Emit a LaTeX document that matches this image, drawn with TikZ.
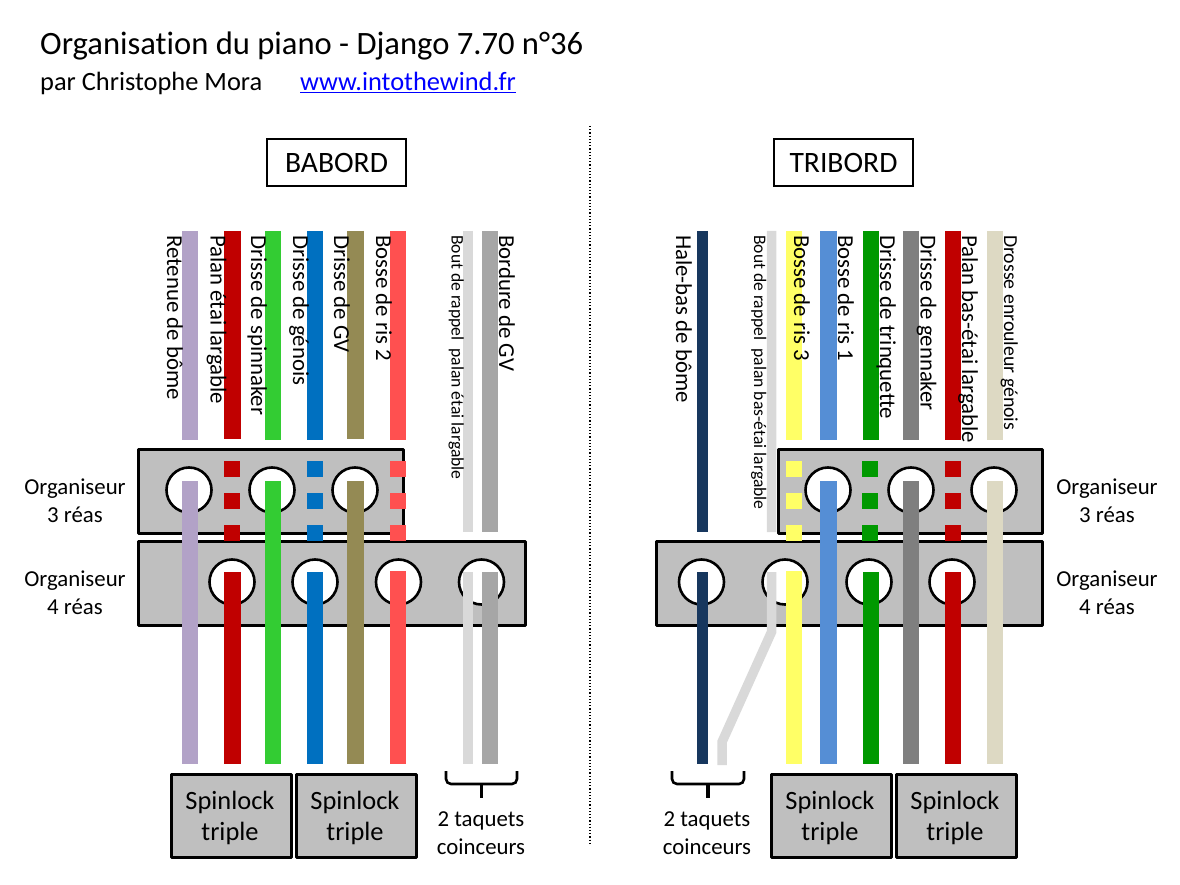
\documentclass[tikz,border=0pt]{standalone}
\usepackage{fontspec}
\setmainfont{Carlito}[Ligatures=CommonOff]
\usetikzlibrary{positioning}
\definecolor{parme}{HTML}{B2A2C7}
\definecolor{rouge}{HTML}{C00000}
\definecolor{vertclair}{HTML}{33CC33}
\definecolor{bleu}{HTML}{0070C0}
\definecolor{olive}{HTML}{948A54}
\definecolor{corail}{HTML}{FF5050}
\definecolor{grisclair}{HTML}{D9D9D9}
\definecolor{grismoyen}{HTML}{A6A6A6}
\definecolor{marine}{HTML}{17375E}
\definecolor{jaune}{HTML}{FFFF66}
\definecolor{ciel}{HTML}{558ED5}
\definecolor{vertfonce}{HTML}{009900}
\definecolor{grisfonce}{HTML}{7F7F7F}
\definecolor{beige}{HTML}{DDD9C3}
\definecolor{plaque}{HTML}{BFBFBF}
\newcommand{\Spinlock}{\rule{0pt}{23pt}Spinlock\hspace*{3pt}\\triple\hspace*{3pt}}
\tikzset{
  Plaque/.style={draw=black,line width=3pt,line join=round,fill=plaque},
  Trou/.style={circle,draw=black,line width=2.6pt,fill=white,minimum size=45pt,inner sep=0pt},
  Carre/.style={minimum size=16pt,inner sep=0pt},
  Ecoute/.style={line width=16.5pt},
  Fine/.style={line width=9.5pt},
  Nom/.style={rotate=-90,anchor=base west,inner sep=0pt,font=\fontsize{22.8}{24}\selectfont},
  Petit/.style={rotate=-90,anchor=base west,inner sep=0pt,font=\fontsize{17.6}{18}\selectfont},
  Etiquette/.style={align=center,font=\fontsize{22.8}{28}\selectfont},
  Bord/.style={draw=black,line width=2pt,minimum width=139pt,minimum height=47pt,inner sep=0pt,font=\fontsize{29.6}{30}\selectfont},
  Bloqueur/.style={draw=black,line width=3pt,line join=round,fill=plaque,minimum width=120pt,minimum height=83pt,inner sep=0pt,align=center,font=\fontsize{26.4}{31}\selectfont},
  Accolade/.style={draw=black,line width=2.6pt,rounded corners=5pt}
}
\begin{document}
\begin{tikzpicture}[x=1pt,y=-1pt]
  \useasboundingbox (0,0) rectangle (1180,885);
  % titre
  \node[anchor=base west,inner sep=0pt,font=\fontsize{32.6}{34}\selectfont] (titre) at (40,55) {Organisation du piano - Django 7.70 n°36};
  \node[anchor=base west,inner sep=0pt,font=\fontsize{26.4}{28}\selectfont] (auteur) at (40,91) {par Christophe Mora};
  \node[anchor=base west,inner sep=0pt,text=blue,font=\fontsize{26.4}{28}\selectfont] (lien) at (300,91) {\underline{www.intothewind.fr}};
  \coordinate (axe1) at (590,126);
  \coordinate (axe2) at (590,845);
  \draw[black,line width=1.2pt,dotted] (axe1) -- (axe2);
  \node[Bord] (babord) at (336.5,162.5) {BABORD};
  \node[Bord] (tribord) at (843.5,162.5) {TRIBORD};

  % babord : organiseurs
  \draw[Plaque] (138.5,449.5) rectangle (403.5,533);
  \draw[Plaque] (138.5,541.5) rectangle (525.5,625);
  \node[Trou] (b1) at (189,490) {};
  \node[Trou] (b2) at (272,490) {};
  \node[Trou] (b3) at (355,490) {};
  \node[Trou] (b4) at (232,582) {};
  \node[Trou] (b5) at (315,582) {};
  \node[Trou] (b6) at (398.5,582) {};
  \node[Trou] (b7) at (481.5,582) {};
  \node[Carre,fill=rouge] (pa1) at (232,469) {};
  \node[Carre,fill=rouge] (pa2) at (232,501) {};
  \node[Carre,fill=rouge] (pa3) at (232,533) {};
  \node[Carre,fill=bleu] (ge1) at (315,469) {};
  \node[Carre,fill=bleu] (ge2) at (315,501) {};
  \node[Carre,fill=bleu] (ge3) at (315,533) {};
  \node[Carre,fill=corail] (r21) at (398,469) {};
  \node[Carre,fill=corail] (r22) at (398,501) {};
  \node[Carre,fill=corail] (r23) at (398,533) {};

  % babord : ecoutes
  \path (190,231) coordinate (ret1) (190,440) coordinate (ret2) (190,481) coordinate (ret3) (190,764) coordinate (ret4);
  \draw[Ecoute,parme] (ret1) -- (ret2) (ret3) -- (ret4);
  \path (232.5,231) coordinate (pal1) (232.5,439) coordinate (pal2) (232.5,572) coordinate (pal3) (232.5,764) coordinate (pal4);
  \draw[Ecoute,rouge] (pal1) -- (pal2) (pal3) -- (pal4);
  \path (273,231) coordinate (spi1) (273,440) coordinate (spi2) (273,481) coordinate (spi3) (273,764) coordinate (spi4);
  \draw[Ecoute,vertclair] (spi1) -- (spi2) (spi3) -- (spi4);
  \path (315,231) coordinate (gen1) (315,440) coordinate (gen2) (315,572) coordinate (gen3) (315,764) coordinate (gen4);
  \draw[Ecoute,bleu] (gen1) -- (gen2) (gen3) -- (gen4);
  \path (355.5,231) coordinate (gv1) (355.5,439) coordinate (gv2) (355.5,481) coordinate (gv3) (355.5,764) coordinate (gv4);
  \draw[Ecoute,olive] (gv1) -- (gv2) (gv3) -- (gv4);
  \path (398,231) coordinate (ris1) (398,440) coordinate (ris2) (398,571) coordinate (ris3) (398,764) coordinate (ris4);
  \draw[Ecoute,corail] (ris1) -- (ris2) (ris3) -- (ris4);
  \path (468,231) coordinate (bou1) (468,532) coordinate (bou2) (468,572) coordinate (bou3) (468,764) coordinate (bou4);
  \draw[Fine,grisclair] (bou1) -- (bou2) (bou3) -- (bou4);
  \path (490,231) coordinate (bor1) (490,532) coordinate (bor2) (490,572) coordinate (bor3) (490,764) coordinate (bor4);
  \draw[Ecoute,grismoyen] (bor1) -- (bor2) (bor3) -- (bor4);

  \node[Nom] (tret) at (167,235) {Retenue de bôme};
  \node[Nom] (tpal) at (210.5,235) {Palan étai largable};
  \node[Nom] (tspi) at (251,235) {Drisse de spinnaker};
  \node[Nom] (tgen) at (293,235) {Drisse de génois};
  \node[Nom] (tgv) at (334,235) {Drisse de GV};
  \node[Nom] (tris) at (376,235) {Bosse de ris 2};
  \node[Petit] (tbou) at (451.5,235) {Bout de rappel\ \ palan étai largable};
  \node[Nom] (tbor) at (499,235) {Bordure de GV};

  % tribord : organiseurs
  \draw[Plaque] (778.5,449.5) rectangle (1042.5,533);
  \draw[Plaque] (656.5,541.5) rectangle (1042.5,625);
  \node[Trou] (t1) at (828,490) {};
  \node[Trou] (t2) at (911,490) {};
  \node[Trou] (t3) at (994,490) {};
  \node[Trou] (t4) at (701.5,582) {};
  \node[Trou] (t5) at (785,582) {};
  \node[Trou] (t6) at (869,582) {};
  \node[Trou] (t7) at (952,582) {};
  \node[Carre,fill=jaune] (r31) at (794,469) {};
  \node[Carre,fill=jaune] (r32) at (794,501) {};
  \node[Carre,fill=jaune] (r33) at (794,533) {};
  \node[Carre,fill=vertfonce] (tr1) at (870,469) {};
  \node[Carre,fill=vertfonce] (tr2) at (870,501) {};
  \node[Carre,fill=vertfonce] (tr3) at (870,533) {};
  \node[Carre,fill=rouge] (pb1) at (953,469) {};
  \node[Carre,fill=rouge] (pb2) at (953,501) {};
  \node[Carre,fill=rouge] (pb3) at (953,533) {};

  % tribord : ecoutes
  \path (702.5,231) coordinate (hal1) (702.5,532) coordinate (hal2) (702.5,572) coordinate (hal3) (702.5,764) coordinate (hal4);
  \draw[line width=11pt,marine] (hal1) -- (hal2) (hal3) -- (hal4);
  \path (771.5,231) coordinate (rap1) (771.5,532) coordinate (rap2) (771.5,572) coordinate (rap3) (771.5,632) coordinate (rap4) (722,742) coordinate (rap5) (722,765) coordinate (rap6);
  \draw[Fine,grisclair] (rap1) -- (rap2) (rap3) -- (rap4) -- (rap5) -- (rap6);
  \path (794,231) coordinate (ja1) (794,440) coordinate (ja2) (794,571) coordinate (ja3) (794,764) coordinate (ja4);
  \draw[Ecoute,jaune] (ja1) -- (ja2) (ja3) -- (ja4);
  \path (828.5,231) coordinate (un1) (828.5,440) coordinate (un2) (828.5,481) coordinate (un3) (828.5,764) coordinate (un4);
  \draw[Ecoute,ciel] (un1) -- (un2) (un3) -- (un4);
  \path (871,231) coordinate (tri1) (871,440) coordinate (tri2) (871,572) coordinate (tri3) (871,764) coordinate (tri4);
  \draw[Ecoute,vertfonce] (tri1) -- (tri2) (tri3) -- (tri4);
  \path (911,231) coordinate (gn1) (911,440) coordinate (gn2) (911,481) coordinate (gn3) (911,764) coordinate (gn4);
  \draw[Ecoute,grisfonce] (gn1) -- (gn2) (gn3) -- (gn4);
  \path (953,231) coordinate (pt1) (953,440) coordinate (pt2) (953,572) coordinate (pt3) (953,764) coordinate (pt4);
  \draw[Ecoute,rouge] (pt1) -- (pt2) (pt3) -- (pt4);
  \path (995,231) coordinate (dr1) (995,440) coordinate (dr2) (995,481) coordinate (dr3) (995,764) coordinate (dr4);
  \draw[Ecoute,beige] (dr1) -- (dr2) (dr3) -- (dr4);

  \node[Nom] (thal) at (676,235) {Hale-bas de bôme};
  \node[Petit] (trap) at (754,235) {Bout de rappel\ \ palan bas-étai largable};
  \node[Nom] (tris3) at (794,235) {Bosse de ris 3};
  \node[Nom] (tris1) at (838,235) {Bosse de ris 1};
  \node[Nom] (ttri) at (880,235) {Drisse de trinquette};
  \node[Nom] (tgn) at (920.5,235) {Drisse de gennaker};
  \node[Nom] (tpt) at (962,235) {Palan bas-étai largable};
  \node[Petit,font=\fontsize{19.8}{22}\selectfont] (tdr) at (1004,235) {Drosse enrouleur génois};

  % legendes
  \node[Etiquette] (e1) at (75,501) {Organiseur\\3 réas};
  \node[Etiquette] (e2) at (75,593) {Organiseur\\4 réas};
  \node[Etiquette] (e3) at (1107,501) {Organiseur\\3 réas};
  \node[Etiquette] (e4) at (1107,593) {Organiseur\\4 réas};
  \node[Bloqueur] (s1) at (231.5,816) {\Spinlock};
  \node[Bloqueur] (s2) at (356.5,816) {\Spinlock};
  \node[Bloqueur] (s3) at (831.5,816) {\Spinlock};
  \node[Bloqueur] (s4) at (956.5,816) {\Spinlock};
  \node[Etiquette] (e5) at (481,833) {2 taquets\\coinceurs};
  \node[Etiquette] (e6) at (707,833) {2 taquets\\coinceurs};

  % accolades
  \path (446,771) coordinate (a1) (446,784) coordinate (a2) (517,784) coordinate (a3) (517,771) coordinate (a4) (481.5,784) coordinate (a5) (481.5,798) coordinate (a6);
  \draw[Accolade] (a1) -- (a2) -- (a3) -- (a4);
  \draw[black,line width=3.2pt] (a5) -- (a6);
  \path (672,771) coordinate (c1) (672,784) coordinate (c2) (744,784) coordinate (c3) (744,771) coordinate (c4) (708,784) coordinate (c5) (708,798) coordinate (c6);
  \draw[Accolade] (c1) -- (c2) -- (c3) -- (c4);
  \draw[black,line width=3.2pt] (c5) -- (c6);
\end{tikzpicture}
\end{document}
